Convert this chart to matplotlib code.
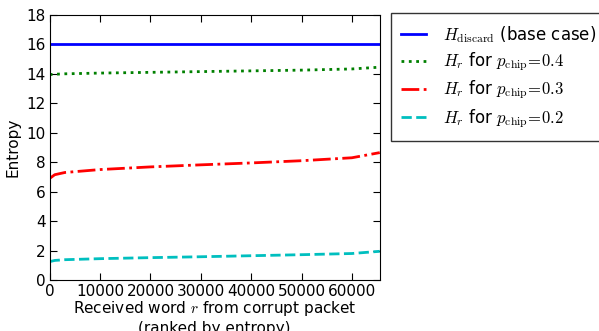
import numpy as np
import matplotlib
matplotlib.use('Agg')
import matplotlib.pyplot as plt

# значения
x = [0, 1000, 3000, 10000, 20000, 30000, 40000, 50000, 60000, 65535]
h_discard = [16, 16, 16, 16, 16, 16, 16, 16, 16, 16]
h_04 = [13.95, 13.97, 14.0, 14.05, 14.1, 14.15, 14.2, 14.25, 14.33, 14.45]
h_03 = [6.9, 7.15, 7.3, 7.5, 7.68, 7.82, 7.95, 8.1, 8.3, 8.65]
h_02 = [1.25, 1.33, 1.38, 1.45, 1.52, 1.58, 1.65, 1.72, 1.8, 1.95]

plt.rcParams['mathtext.fontset'] = 'cm'
plt.rcParams['font.size'] = 11

fig = plt.figure(figsize=(5.99, 3.31), dpi=100)
ax = fig.add_axes([0.083, 0.154, 0.551, 0.801])

ax.plot(x, h_discard, color='#0000ff', lw=2, linestyle='-',
        label=r'$H_{\mathrm{discard}}$ (base case)')
ax.plot(x, h_04, color='#008000', lw=2, linestyle=':',
        label=r'$H_r$ for $p_{\mathrm{chip}}\!=\!0.4$')
ax.plot(x, h_03, color='#ff0000', lw=2, linestyle='-.',
        label=r'$H_r$ for $p_{\mathrm{chip}}\!=\!0.3$')
ax.plot(x, h_02, color='#00bfbf', lw=2, linestyle='--',
        label=r'$H_r$ for $p_{\mathrm{chip}}\!=\!0.2$')

ax.set_xlim(0, 65535)
ax.set_ylim(0, 18)
ax.set_xticks(np.arange(0, 65000, 10000))
ax.set_yticks(np.arange(0, 19, 2))
ax.tick_params(direction='in', top=True, right=True, length=5, pad=3)
ax.set_xlabel('Received word $r$ from corrupt packet\n(ranked by entropy)', labelpad=0)
ax.set_ylabel('Entropy', labelpad=4)

leg = ax.legend(loc='upper left', bbox_to_anchor=(1.033, 1.006), fontsize=12,
                fancybox=False, frameon=True, borderaxespad=0, handlelength=1.5,
                handletextpad=1.0, labelspacing=0.33, borderpad=0.65)
leg.get_frame().set_edgecolor('black')

fig.savefig('out.png', dpi=100)
